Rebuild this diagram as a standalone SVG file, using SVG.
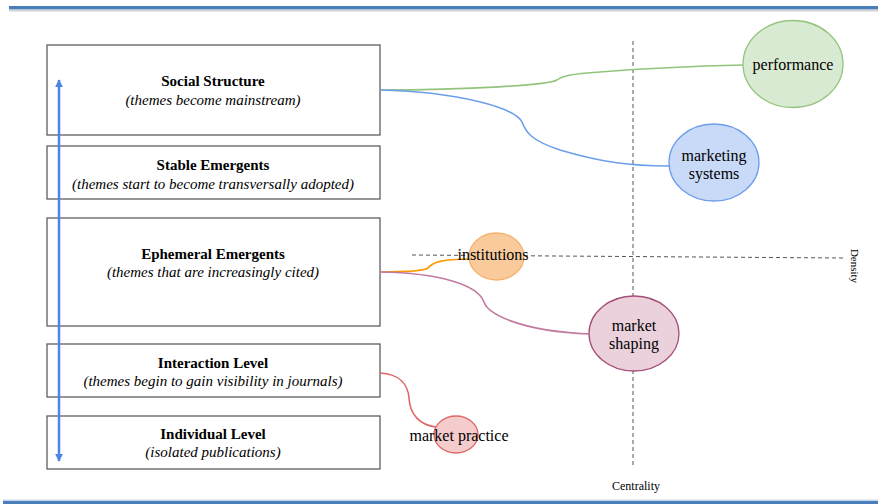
<svg xmlns="http://www.w3.org/2000/svg" width="878" height="504" viewBox="0 0 878 504">
  <defs>
    <style>
      .box { fill: #ffffff; stroke: #5f5f5f; stroke-width: 1.3; }
      .title { font-family: "Liberation Serif", "Times New Roman", serif; font-size: 15px; font-weight: bold; fill: #000; text-anchor: middle; }
      .sub { font-family: "Liberation Serif", "Times New Roman", serif; font-size: 15px; font-style: italic; fill: #000; text-anchor: middle; }
      .lbl { font-family: "Liberation Serif", "Times New Roman", serif; font-size: 16px; fill: #000; text-anchor: middle; }
      .axis { font-family: "Liberation Serif", "Times New Roman", serif; fill: #000; text-anchor: middle; }
      .dash { stroke: #555555; stroke-width: 1; stroke-dasharray: 4 3; fill: none; }
      .conn { fill: none; stroke-width: 1.6; }
    </style>
    <marker id="arrow" viewBox="0 0 10 10" refX="9" refY="5" markerWidth="3.2" markerHeight="3.2" orient="auto-start-reverse">
      <path d="M0,0 L10,5 L0,10 Z" fill="#4a86e8"/>
    </marker>
  </defs>

  <rect width="878" height="504" fill="#ffffff"/>

  <!-- header and footer rules -->
  <rect x="9" y="9" width="869" height="2.5" fill="#d0d4da"/>
  <rect x="9" y="6" width="869" height="3.2" fill="#4a7ebb"/>
  <rect x="3" y="501" width="875" height="3" fill="#4a7ebb"/>
  <rect x="3" y="499.5" width="875" height="1.5" fill="#c9d6e8"/>

  <!-- quadrant axes -->
  <g id="axes">
    <line class="dash" x1="633" y1="41" x2="633" y2="465"/>
    <line class="dash" x1="412" y1="255" x2="843" y2="258"/>
    <text class="axis" font-size="11" transform="translate(851,266) rotate(90)">Density</text>
    <text class="axis" font-size="12" x="636" y="490">Centrality</text>
  </g>

  <!-- level boxes -->
  <g id="social-structure">
    <rect class="box" x="47" y="45" width="333" height="90"/>
    <text class="title" x="213" y="86">Social Structure</text>
    <text class="sub" x="213" y="105">(themes become mainstream)</text>
  </g>
  <g id="stable-emergents">
    <rect class="box" x="47" y="146" width="333" height="53"/>
    <text class="title" x="213" y="170">Stable Emergents</text>
    <text class="sub" x="213" y="189">(themes start to become transversally adopted)</text>
  </g>
  <g id="ephemeral-emergents">
    <rect class="box" x="47" y="218" width="333" height="108"/>
    <text class="title" x="213" y="259">Ephemeral Emergents</text>
    <text class="sub" x="213" y="277">(themes that are increasingly cited)</text>
  </g>
  <g id="interaction-level">
    <rect class="box" x="47" y="344" width="333" height="53"/>
    <text class="title" x="213" y="368">Interaction Level</text>
    <text class="sub" x="213" y="386">(themes begin to gain visibility in journals)</text>
  </g>
  <g id="individual-level">
    <rect class="box" x="47" y="416" width="333" height="53"/>
    <text class="title" x="213" y="439">Individual Level</text>
    <text class="sub" x="213" y="457">(isolated publications)</text>
  </g>

  <!-- connectors -->
  <g id="connectors">
    <line x1="59" y1="80" x2="59" y2="461" stroke="#4a86e8" stroke-width="2.5" marker-start="url(#arrow)" marker-end="url(#arrow)"/>
    <path class="conn" stroke="#93c47d" d="M380,90 C470,90 548,85 557,80 C562,76 570,74 600,72 C650,68 700,66 743,65"/>
    <path class="conn" stroke="#6d9eeb" d="M380,90 C460,92 515,108 522,122 C526,132 530,140 560,150 C600,162 630,166 669,166"/>
    <path class="conn" stroke="#ff9900" d="M380,272 C410,272 424,271 428,268 C432,263 440,259 469,259"/>
    <path class="conn" stroke="#c27ba0" d="M380,272 C440,273 478,285 484,302 C488,314 520,331 589,334"/>
    <path class="conn" stroke="#e06666" d="M380,373 C400,374 408,385 409,398 C410,415 420,425 436,427"/>
  </g>

  <!-- theme nodes -->
  <g id="performance">
    <ellipse cx="793" cy="64" rx="50" ry="43.5" fill="#d9ead3" stroke="#93c47d" stroke-width="1.3"/>
    <text class="lbl" x="793" y="70">performance</text>
  </g>
  <g id="marketing-systems">
    <ellipse cx="714" cy="162.5" rx="45" ry="38.5" fill="#c9daf8" stroke="#6d9eeb" stroke-width="1.3"/>
    <text class="lbl" x="714" y="161">marketing</text>
    <text class="lbl" x="714" y="179">systems</text>
  </g>
  <g id="institutions">
    <ellipse cx="496.5" cy="256.5" rx="27.5" ry="23.5" fill="#f9cb9c" stroke="#f6b26b" stroke-width="1.3"/>
    <text class="lbl" x="493" y="260">institutions</text>
  </g>
  <g id="market-shaping">
    <ellipse cx="634" cy="333.5" rx="45" ry="37.5" fill="#ead1dc" stroke="#a64d79" stroke-width="1.3"/>
    <text class="lbl" x="634" y="331">market</text>
    <text class="lbl" x="634" y="349">shaping</text>
  </g>
  <g id="market-practice">
    <ellipse cx="456" cy="434.5" rx="22" ry="18.5" fill="#f4cccc" stroke="#e06666" stroke-width="1.3"/>
    <text class="lbl" x="459" y="441">market practice</text>
  </g>
</svg>
